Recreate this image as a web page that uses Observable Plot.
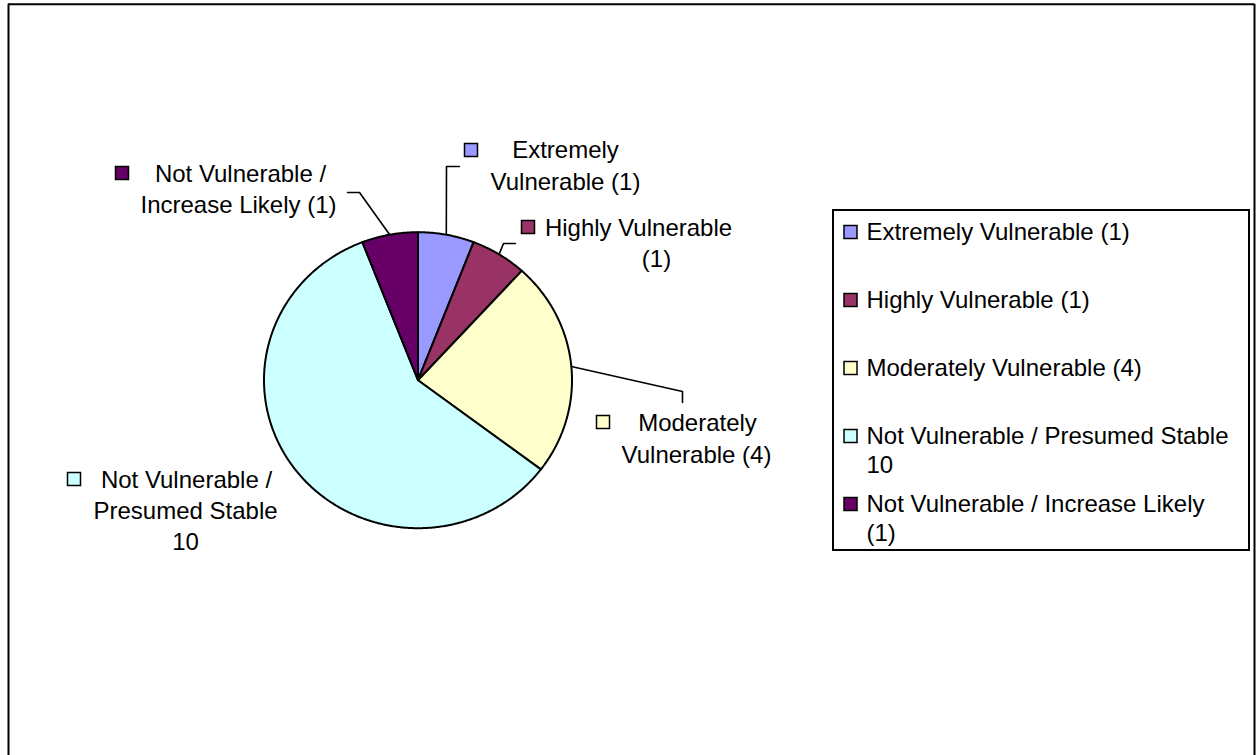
<!DOCTYPE html>
<html><head><meta charset="utf-8">
<script src="https://cdn.jsdelivr.net/npm/d3@7"></script>
<script src="https://cdn.jsdelivr.net/npm/@observablehq/plot@0.6"></script>
<style>html,body{margin:0;padding:0;background:#fff;overflow:hidden}</style>
</head><body><div id="chart"></div>
<script>
// ---- data ----
const categories = ["Extremely Vulnerable", "Highly Vulnerable", "Moderately Vulnerable", "Not Vulnerable / Presumed Stable", "Not Vulnerable / Increase Likely"];
const counts = [1, 1, 4, 10, 1];
const colors = ["#9999FF", "#993366", "#FFFFCC", "#CCFFFF", "#660066"];
const dataLabels = ["Extremely\nVulnerable (1)", "Highly Vulnerable\n(1)", "Moderately\nVulnerable (4)", "Not Vulnerable /\nPresumed Stable\n10", "Not Vulnerable /\nIncrease Likely (1)"];
const legendLabels = ["Extremely Vulnerable (1)", "Highly Vulnerable (1)", "Moderately Vulnerable (4)", "Not Vulnerable / Presumed Stable\n10", "Not Vulnerable / Increase Likely\n(1)"];

// ---- layout (pixels) ----
const W = 1257, H = 755;
const pie = {cx: 417.5, cy: 379.7, rx: 154, ry: 148};
const labelLayout = [
  {x: [565, 565], y: 150, step: 32, key: [471, 150], leader: [[446, 166], [459, 166]]},
  {x: [638, 656], y: 228, step: 31, key: [528, 227], leader: [[503, 243], [515, 243]]},
  {x: [697, 696], y: 423, step: 32, key: [603, 422], leader: [[682, 391], [682, 402]]},
  {x: [186, 185, 185], y: 480, step: 31, key: [74, 479], leader: null},
  {x: [240, 238], y: 174, step: 31, key: [122, 173], leader: [[359, 192], [347, 192]]}
];
const legendLayout = {x1: 833, x2: 1249, y1: 210, y2: 550, keyX: 850.5, textX: 866, rowY: 232, rowStep: 68, lineStep: 29};
const keySize = 13;
const border = {x1: 8, x2: 1254, y1: 3.7};

// ---- derived geometry ----
const arcs = d3.pie().sort(null).value(d => d)(counts);
const ell = t => ({x: pie.cx + pie.rx * Math.sin(t), y: pie.cy - pie.ry * Math.cos(t)});
const slicePts = [];
arcs.forEach((a, i) => {
  const k = categories[i];
  slicePts.push({k, x: pie.cx, y: pie.cy});
  const n = Math.max(2, Math.ceil((a.endAngle - a.startAngle) / (Math.PI / 360)));
  for (let j = 0; j <= n; j++) {
    const p = ell(a.startAngle + (a.endAngle - a.startAngle) * j / n);
    slicePts.push({k, ...p});
  }
  slicePts.push({k, x: pie.cx, y: pie.cy});
});

const leaderPts = [];
arcs.forEach((a, i) => {
  const L = labelLayout[i].leader;
  if (!L) return;
  const k = categories[i];
  leaderPts.push({k, ...ell((a.startAngle + a.endAngle) / 2)});
  L.forEach(([x, y]) => leaderPts.push({k, x, y}));
});

const labelLines = [];
dataLabels.forEach((t, i) => {
  const L = labelLayout[i];
  t.split("\n").forEach((s, j) => labelLines.push({text: s, x: L.x[j], y: L.y + j * L.step}));
});
const labelKeys = categories.map((k, i) => ({k, x: labelLayout[i].key[0], y: labelLayout[i].key[1]}));

const legendLines = [];
const legendKeys = [];
legendLabels.forEach((t, i) => {
  const y0 = legendLayout.rowY + i * legendLayout.rowStep;
  legendKeys.push({k: categories[i], x: legendLayout.keyX, y: y0});
  t.split("\n").forEach((s, j) => legendLines.push({text: s, x: legendLayout.textX, y: y0 + j * legendLayout.lineStep}));
});

const keyRect = (data) => Plot.rect(data, {
  x1: d => d.x - keySize / 2, x2: d => d.x + keySize / 2,
  y1: d => d.y - keySize / 2, y2: d => d.y + keySize / 2,
  fill: "k", stroke: "black", strokeWidth: 1.5
});

const chart = Plot.plot({
  width: W, height: H, margin: 0,
  x: {domain: [0, W], range: [0, W], axis: null},
  y: {domain: [0, H], range: [0, H], axis: null},
  color: {domain: categories, range: colors},
  style: {fontFamily: "'Liberation Sans', Arial, sans-serif", background: "white", overflow: "hidden"},
  marks: [
    Plot.ruleY([border.y1], {x1: border.x1, x2: border.x2, stroke: "black", strokeWidth: 2}),
    Plot.ruleX([border.x1, border.x2], {y1: border.y1, y2: H + 5, stroke: "black", strokeWidth: 2}),
    Plot.line(slicePts, {x: "x", y: "y", z: "k", fill: "k", stroke: "black", strokeWidth: 2, strokeLinejoin: "round"}),
    Plot.line(leaderPts, {x: "x", y: "y", z: "k", stroke: "black", strokeWidth: 1.6}),
    keyRect(labelKeys),
    Plot.text(labelLines, {x: "x", y: "y", text: "text", textAnchor: "middle", lineAnchor: "middle", fontSize: 24, fill: "black"}),
    Plot.rect([0], {x1: legendLayout.x1, x2: legendLayout.x2, y1: legendLayout.y1, y2: legendLayout.y2, fill: "white", stroke: "black", strokeWidth: 2}),
    keyRect(legendKeys),
    Plot.text(legendLines, {x: "x", y: "y", text: "text", textAnchor: "start", lineAnchor: "middle", fontSize: 24, fill: "black"})
  ]
});
document.getElementById("chart").appendChild(chart);
</script>
</body></html>
